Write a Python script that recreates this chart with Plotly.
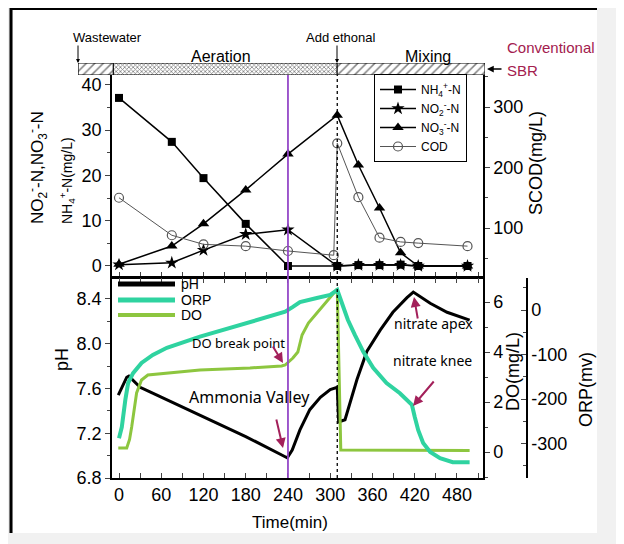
import plotly.graph_objects as go

# ---------------- data ----------------
# top panel: nitrogen species (left axis, mg/L) and SCOD (right axis, mg/L)
t_n = [0, 75, 120, 180, 240, 310, 340, 370, 400, 425, 495]
nh4 = [37.1, 27.4, 19.4, 9.3, 0.0, 0.0, 0.2, 0.2, 0.3, 0.0, 0.0]
no2 = [0.3, 0.7, 3.5, 7.0, 8.0, 0.0, 0.2, 0.2, 0.2, 0.0, 0.0]
no3 = [0.4, 4.4, 9.3, 16.8, 24.7, 33.3, 22.3, 12.8, 2.9, 0.0, 0.0]
t_cod = [0, 75, 120, 180, 240, 305, 310, 340, 370, 400, 425, 495]
cod = [150, 88, 73, 70, 62, 55, 240, 151, 84, 77, 75, 70]

# bottom panel: online pH, ORP (mV) and DO (mg/L)
t_ph = [-1, 5, 11, 14, 20, 30, 44, 115, 180, 236, 239, 246, 257, 271, 286, 300, 310,
        312, 321, 338, 352, 371, 389, 409, 418, 442, 466, 498]
ph = [7.54, 7.62, 7.70, 7.71, 7.67, 7.61, 7.57, 7.36, 7.17, 6.99, 6.98, 7.05, 7.23, 7.41,
      7.52, 7.59, 7.61, 7.30, 7.32, 7.68, 7.93, 8.12, 8.28, 8.41, 8.46, 8.36, 8.28, 8.21]

t_orp = [0, 4, 9, 13, 20, 32, 48, 68, 115, 162, 210, 236, 247, 257, 281, 300, 310,
         318, 325, 335, 347, 361, 380, 399, 416, 420, 425, 432, 442, 456, 474, 498]
orp = [-288, -263, -202, -164, -142, -119, -101, -85, -60, -38, -15, -4, 7, 18, 27, 34, 45,
       11, -22, -56, -94, -130, -164, -187, -213, -240, -270, -299, -319, -333, -342, -342]

t_do = [-1, 11, 15, 18, 25, 32, 41, 115, 186, 231, 236, 247, 254, 260, 269, 285, 300,
        310, 315, 400, 498]
do = [0.16, 0.16, 0.5, 1.0, 2.36, 2.88, 3.08, 3.28, 3.36, 3.44, 3.48, 3.76, 4.0, 4.68,
      5.16, 5.68, 6.16, 6.52, 0.08, 0.06, 0.06]

# operation phases (min) shown on the hatched bar
phase_start = [-58, -8, 310]
phase_end = [-8, 310, 520]
phase_pattern = ["/", "x", "/"]

x_ticks = [0, 60, 120, 180, 240, 300, 360, 420, 480]
orp_ticks = [0, -100, -200, -300]
orp_ticktext = ["0", "-100", "-200", "-300"]

t_breakpoint = 240
t_ethanol = 310

bottom_names = ["pH", "ORP", "DO"]
bottom_colors = ["black", "#2fd3a0", "#8dc63f"]

# ---------------- layout helpers ----------------
# page coordinates (px) are mapped to paper coordinates; the page body adds an 8px offset
W, H = 616, 536
ML, MR, MT, MB = 52, 60, 22, 66
AW, AH = W - ML - MR, H - MT - MB
OFF = 8


def X(px):
    return (px - OFF - ML) / AW


def Y(py):
    return (H - MB - (py - OFF)) / AH


TICKFONT = dict(family="Liberation Sans, Arial, sans-serif", size=18, color="black")
SANS = "Liberation Sans, Arial, sans-serif"
HAND = "Noto Sans, DejaVu Sans, sans-serif"
ARROWC = "#a3205a"

fig = go.Figure()

# top panel traces
fig.add_trace(go.Scatter(x=t_n, y=nh4, name="NH<sub>4</sub><sup>+</sup>-N", mode="lines+markers",
                         line=dict(color="black", width=1.5),
                         marker=dict(symbol="square", size=8, color="black"),
                         xaxis="x", yaxis="y", legendgroup="a"))
fig.add_trace(go.Scatter(x=t_n, y=no2, name="NO<sub>2</sub><sup>-</sup>-N", mode="lines+markers",
                         line=dict(color="black", width=1.5),
                         marker=dict(symbol="star", size=10, color="black"),
                         xaxis="x", yaxis="y", legendgroup="b"))
fig.add_trace(go.Scatter(x=t_n, y=no3, name="NO<sub>3</sub><sup>-</sup>-N", mode="lines+markers",
                         line=dict(color="black", width=1.5),
                         marker=dict(symbol="triangle-up", size=10, color="black"),
                         xaxis="x", yaxis="y", legendgroup="c"))
fig.add_trace(go.Scatter(x=t_cod, y=cod, name="COD", mode="lines+markers",
                         line=dict(color="#555555", width=1),
                         marker=dict(symbol="circle-open", size=9, color="#555555",
                                     line=dict(width=1.2)),
                         xaxis="x", yaxis="y2", legendgroup="d"))

# bottom panel traces
fig.add_trace(go.Scatter(x=t_ph, y=ph, name=bottom_names[0], mode="lines",
                         line=dict(color=bottom_colors[0], width=3),
                         xaxis="x2", yaxis="y3", showlegend=False))
fig.add_trace(go.Scatter(x=t_orp, y=orp, name=bottom_names[1], mode="lines",
                         line=dict(color=bottom_colors[1], width=4),
                         xaxis="x2", yaxis="y5", showlegend=False))
fig.add_trace(go.Scatter(x=t_do, y=do, name=bottom_names[2], mode="lines",
                         line=dict(color=bottom_colors[2], width=3),
                         xaxis="x2", yaxis="y4", showlegend=False))

# hatched operation bar
fig.add_trace(go.Bar(y=[0] * len(phase_start),
                     x=[e - s for s, e in zip(phase_start, phase_end)],
                     base=phase_start, orientation="h", width=1,
                     marker=dict(color="white", line=dict(color="black", width=1),
                                 pattern=dict(shape=phase_pattern, size=[6, 3, 6],
                                              solidity=[0.25, 0.45, 0.25],
                                              fgcolor="black", bgcolor="white")),
                     xaxis="x3", yaxis="y6", showlegend=False, hoverinfo="skip"))

xrange = [-9.94, 517.0]
axline = dict(showline=True, linecolor="black", linewidth=1.5, showgrid=False, zeroline=False)

fig.update_layout(
    width=W, height=H,
    margin=dict(l=ML, r=MR, t=MT, b=MB),
    paper_bgcolor="#f1f1f1", plot_bgcolor="white",
    font=dict(family=SANS, color="black"),
    barmode="overlay",
    xaxis=dict(domain=[X(112), X(483)], range=xrange, anchor="y", showticklabels=False,
               ticks="inside", tickvals=x_ticks, ticklen=5, mirror=True,
               minor=dict(dtick=30, tick0=0, ticks="inside", ticklen=5), **axline),
    xaxis2=dict(domain=[X(112), X(483)], range=xrange, anchor="y3", tickvals=x_ticks,
                ticks="inside", ticklen=5, mirror="ticks", tickfont=TICKFONT,
                minor=dict(dtick=30, tick0=0, ticks="inside", ticklen=5), **axline),
    xaxis3=dict(domain=[X(78), X(485)], range=[-58.2, 520], anchor="y6", visible=False),
    yaxis=dict(domain=[Y(277), Y(75)], range=[-2.43, 42.16], anchor="x", dtick=10, tick0=0,
               ticks="outside", ticklen=5, tickfont=TICKFONT,
               minor=dict(dtick=5, tick0=0, ticks="outside", ticklen=3), **axline),
    yaxis2=dict(range=[19, 352.9], overlaying="y", side="right", anchor="x", dtick=100, tick0=0,
                ticks="outside", ticklen=5, tickfont=TICKFONT,
                minor=dict(dtick=50, tick0=0, ticks="outside", ticklen=3), **axline),
    yaxis3=dict(domain=[0, Y(278)], range=[6.8, 8.586], anchor="x2", dtick=0.4, tick0=6.8,
                tickformat=".1f", ticks="outside", ticklen=5, tickfont=TICKFONT,
                minor=dict(dtick=0.2, tick0=6.8, ticks="outside", ticklen=3), **axline),
    yaxis4=dict(range=[-1.04, 6.96], overlaying="y3", side="right", anchor="x2", dtick=2, tick0=0,
                ticks="outside", ticklen=5, tickfont=TICKFONT,
                minor=dict(dtick=1, tick0=0, ticks="outside", ticklen=3), **axline),
    yaxis5=dict(range=[-377.5, 71.9], overlaying="y3", side="right", anchor="free",
                position=X(527), tickvals=orp_ticks, ticktext=orp_ticktext,
                ticks="inside", ticklen=5, tickfont=TICKFONT,
                minor=dict(dtick=50, tick0=0, ticks="inside", ticklen=3), **axline),
    yaxis6=dict(domain=[Y(75), Y(63)], range=[-0.5, 0.5], anchor="x3", visible=False),
    legend=dict(x=X(374), y=Y(74), xanchor="left", yanchor="top", bgcolor="white",
                bordercolor="black", borderwidth=1, itemwidth=36, tracegroupgap=5,
                font=dict(family=SANS, size=12), traceorder="normal"),
    showlegend=True,
)

shapes = [
    # white panel with dark frame edge
    dict(type="rect", xref="paper", yref="paper", x0=X(13), x1=X(597), y0=Y(533), y1=Y(10),
         fillcolor="white", line=dict(width=0), layer="below"),
    dict(type="line", xref="paper", yref="paper", x0=X(11), x1=X(11), y0=Y(533), y1=Y(8),
         line=dict(color="black", width=3)),
    dict(type="line", xref="paper", yref="paper", x0=X(10), x1=X(597), y0=Y(9), y1=Y(9),
         line=dict(color="black", width=2)),
    # breakpoint and ethanol-addition markers
    dict(type="line", xref="x", yref="paper", x0=t_breakpoint, x1=t_breakpoint, y0=0, y1=Y(75),
         line=dict(color="#9448c8", width=1.8)),
    dict(type="line", xref="x", yref="paper", x0=t_ethanol, x1=t_ethanol, y0=0, y1=Y(75),
         line=dict(color="black", width=1.3, dash="dot")),
]

ann = []


def txt(text, px, py, size, family=SANS, color="black", angle=0, xanchor="center"):
    ann.append(dict(text=text, x=X(px), y=Y(py), xref="paper", yref="paper", showarrow=False,
                    textangle=angle, xanchor=xanchor, yanchor="middle",
                    font=dict(family=family, size=size, color=color)))


# legend of the bottom panel (line samples + labels)
for name, color, py, lw in zip(bottom_names, bottom_colors, [284, 300, 315], [5, 5, 4]):
    shapes.append(dict(type="line", xref="paper", yref="paper", x0=X(118), x1=X(175),
                       y0=Y(py), y1=Y(py), line=dict(color=color, width=lw)))
    txt(name, 179, py, 14, xanchor="left")

fig.update_layout(shapes=shapes)

# header
txt("Wastewater", 107, 37, 13)
txt("Aeration", 221, 56, 16)
txt("Add ethonal", 341, 37, 13)
txt("Mixing", 428, 56, 16)
txt("Conventional", 505, 48, 15, color="#a3204e", xanchor="left")
txt("SBR", 505, 71, 15, color="#a3204e", xanchor="left")
for px in (78, 337):
    ann.append(dict(x=X(px), y=Y(63), xref="paper", yref="paper", ax=0, ay=-19, text="",
                    showarrow=True, arrowhead=2, arrowsize=0.8, arrowwidth=1, arrowcolor="black"))
ann.append(dict(x=X(487), y=Y(69), xref="paper", yref="paper", ax=16, ay=0, text="",
                showarrow=True, arrowhead=2, arrowsize=0.9, arrowwidth=1.5, arrowcolor="black"))

# axis titles
txt("NO<sub>2</sub><sup>-</sup>-N,NO<sub>3</sub><sup>-</sup>-N", 37, 168, 17, angle=-90)
txt("NH<sub>4</sub><sup>+</sup>-N(mg/L)", 67, 181, 14, angle=-90)
txt("SCOD(mg/L)", 536, 163, 18, angle=-90)
txt("pH", 62, 360, 18, angle=-90)
txt("DO(mg/L)", 513, 372, 18, angle=-90)
txt("ORP(mv)", 586, 390, 18, angle=-90)
txt("Time(min)", 290, 522, 17)

# handwritten notes
txt("DO break point", 238, 343, 13, family=HAND)
txt("Ammonia Valley", 249, 397, 16, family=HAND)
txt("nitrate apex", 433, 323, 14, family=HAND)
txt("nitrate knee", 432, 360, 14, family=HAND)

arrows = [(283, 363, -11, -18), (283, 448, -7, -30), (414, 297, 4, 23), (413, 406, 22, -26)]
for hx, hy, ax, ay in arrows:
    ann.append(dict(x=X(hx), y=Y(hy), xref="paper", yref="paper", ax=ax, ay=ay, text="",
                    showarrow=True, arrowhead=2, arrowsize=1, arrowwidth=2, arrowcolor=ARROWC))

fig.update_layout(annotations=ann)

fig.write_html("out.html")
